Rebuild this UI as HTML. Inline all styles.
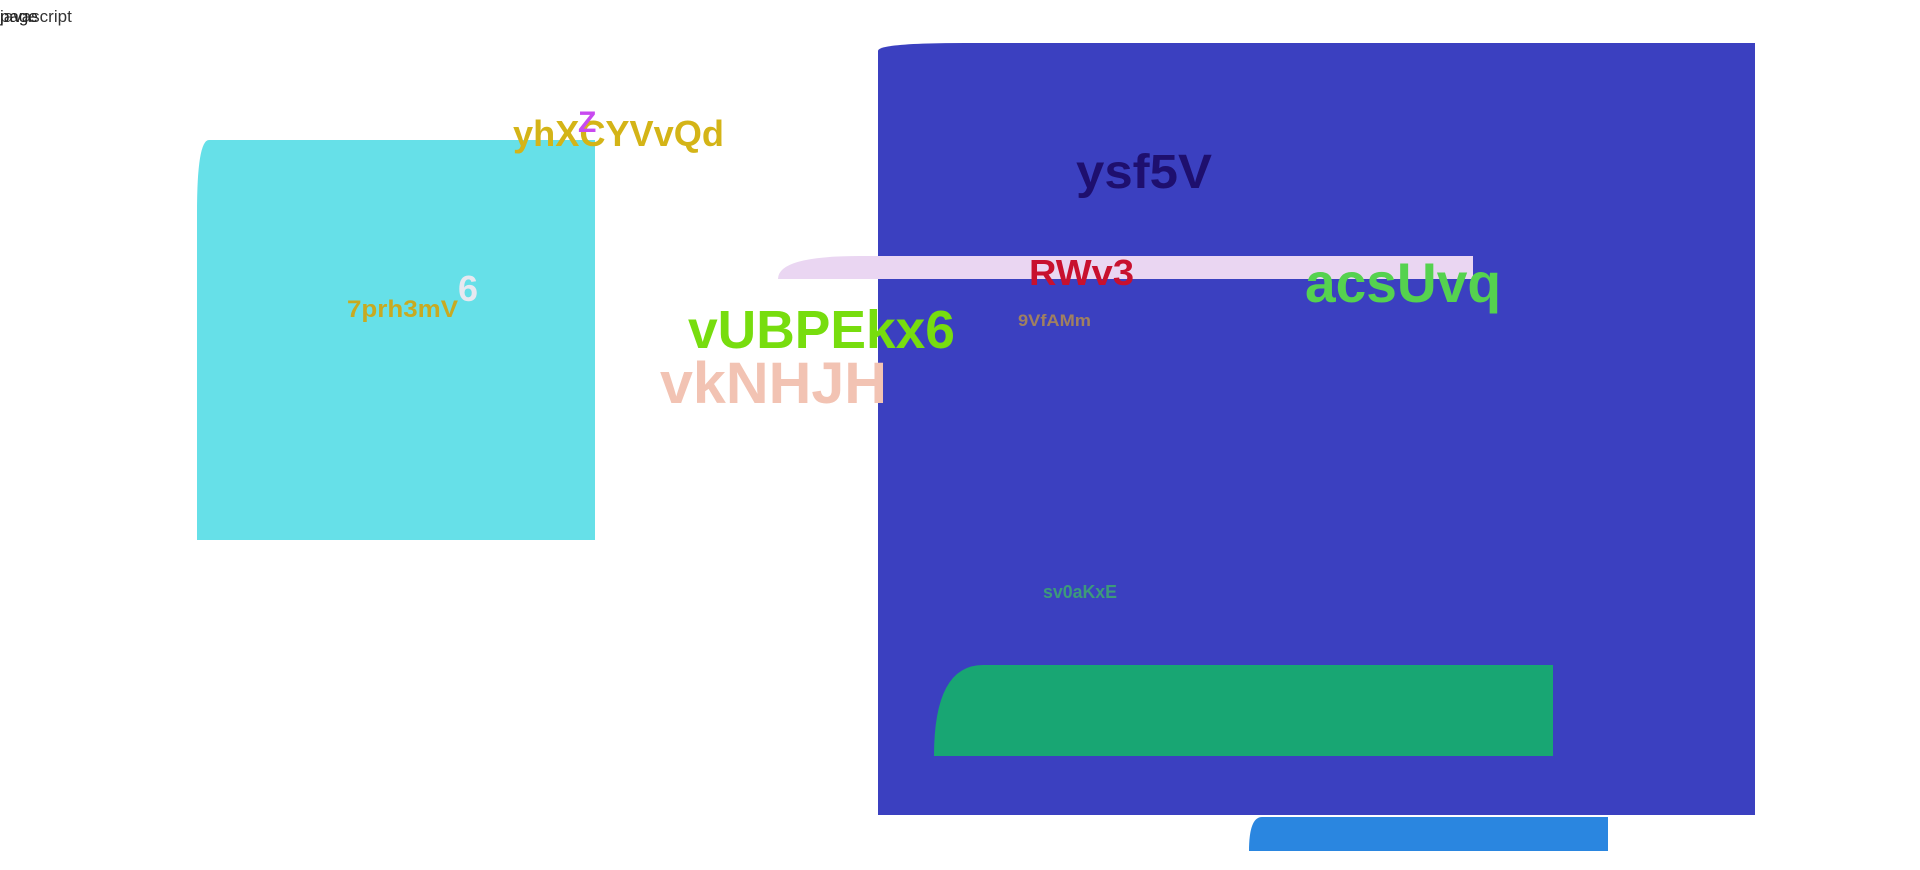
<!DOCTYPE html>
<html><head><meta charset="utf-8"><style>
html,body{margin:0;padding:0;background:#fff;width:1920px;height:870px;overflow:hidden}
svg{display:block}
text{font-family:"Liberation Sans",sans-serif;font-weight:bold}
</style></head><body>
<svg width="1920" height="870" viewBox="0 0 1920 870">
<g>
<text x="0" y="22" font-size="17" font-weight="normal" fill="#333" style="font-weight:normal">javascript</text>
<text x="0" y="22" font-size="17" fill="#222" style="font-weight:normal">page</text>
</g>
<path d="M209,140 H595 V540 H197 V213 Q197,140 209,140 Z" fill="#66e0e8"/>
<path d="M878,51 Q878,43 965,43 H1755 V815 H878 Z" fill="#3b40c0"/>
<path d="M778,279 Q778,256 860,256 H1473 V279 Z" fill="#ead6f2"/>
<path d="M934,756 Q934,665 983,665 H1553 V756 Z" fill="#18a673"/>
<path d="M1249,851 Q1249,817 1262,817 H1608 V851 Z" fill="#2a86e0"/>
<text x="513" y="146" font-size="36" fill="#d4b417" textLength="211" lengthAdjust="spacingAndGlyphs">yhXCYVvQd</text>
<text x="578" y="132" font-size="30" fill="#c84af0">Z</text>
<text x="1076" y="188" font-size="48" fill="#1e0f6e" textLength="136" lengthAdjust="spacingAndGlyphs">ysf5V</text>
<text x="1029" y="285" font-size="36" fill="#c8102e" textLength="105" lengthAdjust="spacingAndGlyphs">RWv3</text>
<text x="1305" y="302" font-size="56" fill="#55d24f" textLength="196" lengthAdjust="spacingAndGlyphs">acsUvq</text>
<text x="1018" y="326" font-size="17" fill="#a08060" textLength="73" lengthAdjust="spacingAndGlyphs">9VfAMm</text>
<text x="688" y="348" font-size="54" fill="#77dd0e" textLength="267" lengthAdjust="spacingAndGlyphs">vUBPEkx6</text>
<text x="660" y="403" font-size="58" fill="#f2c3b3" textLength="227" lengthAdjust="spacingAndGlyphs">vkNHJH</text>
<text x="347" y="317" font-size="24" fill="#c8aa20" textLength="111" lengthAdjust="spacingAndGlyphs">7prh3mV</text>
<text x="458" y="301" font-size="36" fill="#e8e8f0">6</text>
<text x="1043" y="598" font-size="18" fill="#3d9a7a" textLength="74" lengthAdjust="spacingAndGlyphs">sv0aKxE</text>
</svg>
</body></html>
